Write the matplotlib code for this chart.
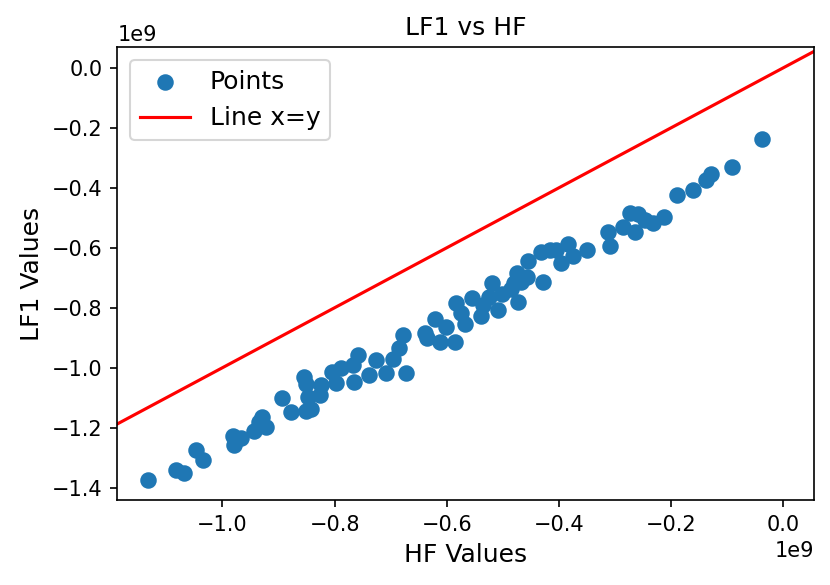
import numpy as np
import matplotlib
matplotlib.use("Agg")
import matplotlib.pyplot as plt

# values, in units of 1e9
hf = [-1.133, -1.083, -1.068, -1.048, -1.035, -0.982, -0.967, -0.979, -0.943, -0.929,
      -0.935, -0.923, -0.894, -0.878, -0.854, -0.851, -0.848, -0.851, -0.842, -0.824,
      -0.827, -0.804, -0.798, -0.789, -0.768, -0.758, -0.765, -0.738, -0.727, -0.708,
      -0.696, -0.685, -0.679, -0.673, -0.639, -0.635, -0.622, -0.602, -0.613, -0.586,
      -0.583, -0.575, -0.568, -0.556, -0.539, -0.536, -0.524, -0.520, -0.509, -0.501,
      -0.486, -0.481, -0.473, -0.475, -0.467, -0.455, -0.458, -0.429, -0.433, -0.417,
      -0.405, -0.397, -0.384, -0.376, -0.351, -0.313, -0.310, -0.286, -0.274, -0.265,
      -0.259, -0.246, -0.232, -0.213, -0.189, -0.161, -0.138, -0.130, -0.092, -0.039]
lf1 = [-1.374, -1.341, -1.350, -1.274, -1.308, -1.228, -1.235, -1.258, -1.210, -1.163,
       -1.180, -1.197, -1.102, -1.149, -1.030, -1.054, -1.097, -1.143, -1.136, -1.058,
       -1.091, -1.014, -1.052, -1.002, -0.991, -0.958, -1.047, -1.024, -0.973, -1.018,
       -0.970, -0.933, -0.891, -1.018, -0.885, -0.902, -0.838, -0.863, -0.913, -0.913,
       -0.785, -0.818, -0.854, -0.769, -0.826, -0.791, -0.764, -0.719, -0.808, -0.753,
       -0.738, -0.719, -0.780, -0.683, -0.713, -0.643, -0.697, -0.713, -0.613, -0.608,
       -0.608, -0.652, -0.588, -0.628, -0.608, -0.549, -0.594, -0.530, -0.484, -0.547,
       -0.487, -0.508, -0.517, -0.498, -0.424, -0.408, -0.373, -0.354, -0.332, -0.238]

x = np.array(hf) * 1e9
y = np.array(lf1) * 1e9
x_limits = (-1.1875e9, 0.055e9)
y_limits = (-1.441e9, 0.068e9)

fig = plt.figure(figsize=(830 / 150, 585 / 150), dpi=150)
ax = fig.add_axes([0.1413, 0.1453, 0.8398, 0.7738])

ax.scatter(x, y, s=48, label='Points')
line = np.array(x_limits)
ax.plot(line, line, color='red', label='Line x=y')

ax.set_xlim(x_limits)
ax.set_ylim(y_limits)
ax.set_title('LF1 vs HF', fontsize=12)
ax.set_xlabel('HF Values', fontsize=12)
ax.set_ylabel('LF1 Values', fontsize=12)
ax.legend(loc='upper left', fontsize=12)

fig.savefig('out.png', dpi=150)
